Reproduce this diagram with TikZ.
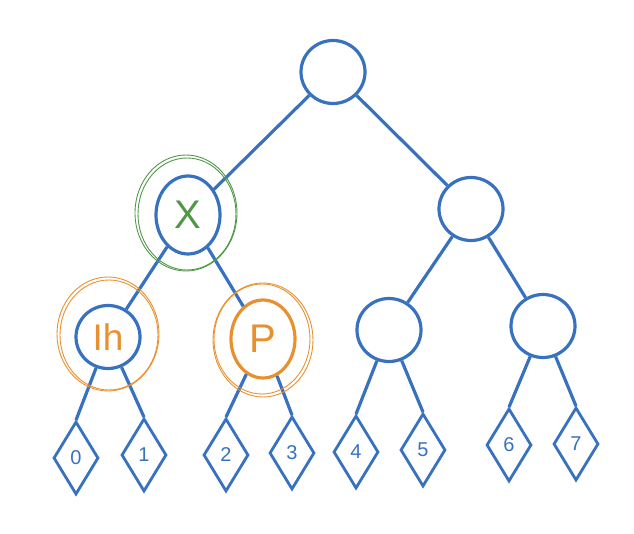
\documentclass[tikz,border=0pt]{standalone}
\usepackage{fontspec}
\setmainfont{Liberation Sans}
\usepackage{tikz}
\usetikzlibrary{shapes.geometric, positioning}

\definecolor{azul}{RGB}{56,114,190}
\definecolor{verde}{RGB}{80,152,72}
\definecolor{naranja}{RGB}{232,144,48}

\begin{document}
\begin{tikzpicture}[x=1pt, y=-1pt,
    nodo/.style={draw=azul, line width=3.2pt, ellipse, inner sep=0pt, minimum width=64pt, minimum height=63pt},
    hoja/.style={draw=azul, line width=2.8pt, diamond, inner sep=0pt, minimum width=45pt, minimum height=73pt, text=azul, font=\fontsize{20}{22}\selectfont},
    arista/.style={draw=azul, line width=3.2pt},
    anillo/.style={line width=0.9pt}]
    \useasboundingbox (0,0) rectangle (634,534);

    \node[nodo] (raiz) at (333,72) {};
    \node[nodo, minimum height=78pt, text=verde, font=\fontsize{40}{44}\selectfont] (x) at (188,215) {X};
    \node[nodo] (der) at (471,209) {};
    \node[nodo, text=naranja, font=\fontsize{37}{40}\selectfont] (ih) at (108,337) {Ih};
    \node[nodo, minimum height=78pt, draw=naranja, text=naranja, font=\fontsize{40}{44}\selectfont] (p) at (263,339) {P};
    \node[nodo] (n45) at (389,330) {};
    \node[nodo] (n67) at (543,326) {};

    \node[hoja] (h0) at (76,458) {0};
    \node[hoja] (h1) at (144,455) {1};
    \node[hoja] (h2) at (226,455) {2};
    \node[hoja] (h3) at (292,453) {3};
    \node[hoja] (h4) at (356,452) {4};
    \node[hoja] (h5) at (423,450) {5};
    \node[hoja] (h6) at (509,445) {6};
    \node[hoja] (h7) at (576,444) {7};

    \draw[arista] (raiz) -- (x);
    \draw[arista] (raiz) -- (der);
    \draw[arista] (x) -- (ih);
    \draw[arista] (x) -- (p);
    \draw[arista] (der) -- (n45);
    \draw[arista] (der) -- (n67);
    \draw[arista] (ih) -- (h0.north);
    \draw[arista] (ih) -- (h1.north);
    \draw[arista] (p) -- (h2.north);
    \draw[arista] (p) -- (h3.north);
    \draw[arista] (n45) -- (h4.north);
    \draw[arista] (n45) -- (h5.north);
    \draw[arista] (n67) -- (h6.north);
    \draw[arista] (n67) -- (h7.north);

    % anillos a mano
    \draw[anillo, verde] ([shift={(-2,-2)}]x.center) ellipse [x radius=51pt, y radius=58pt];
    \draw[anillo, verde] ([shift={(-1,-1)}]x.center) ellipse [x radius=49pt, y radius=56pt];
    \draw[anillo, naranja] ([shift={(0,-3)}]ih.center) ellipse [x radius=51pt, y radius=57pt];
    \draw[anillo, naranja] ([shift={(1,-2)}]ih.center) ellipse [x radius=49pt, y radius=55pt];
    \draw[anillo, naranja] ([shift={(0,1)}]p.center) ellipse [x radius=50pt, y radius=57pt];
    \draw[anillo, naranja] ([shift={(-1,0)}]p.center) ellipse [x radius=48pt, y radius=55pt];
\end{tikzpicture}
\end{document}
